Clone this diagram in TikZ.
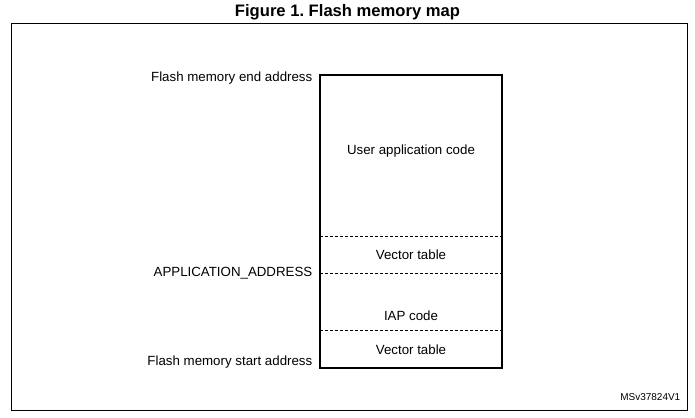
\documentclass[tikz,border=0pt]{standalone}
\usepackage{fontspec}
\setmainfont{Liberation Sans}
\frenchspacing
\begin{document}
\begin{tikzpicture}[x=1pt,y=-1pt,
  lbl/.style={inner sep=0pt,font=\fontsize{13.3}{15}\selectfont},
  sep/.style={dashed,dash pattern=on 3pt off 2pt,line width=0.8pt},
]
\useasboundingbox (0,0) rectangle (695,417);
\fill[white] (0,0) rectangle (695,417);
\node[inner sep=0pt,font=\bfseries\fontsize{16.6}{18}\selectfont] (title) at (347.5,12) {Figure 1. Flash memory map};
\draw[line width=1pt] (11.5,24) rectangle (687,410);
% memory box
\coordinate (tl) at (320,75);
\coordinate (br) at (502,368);
\draw[line width=1.4pt] (tl) rectangle (br);
\coordinate (d1l) at (320,236.5); \coordinate (d1r) at (502,236.5);
\coordinate (d2l) at (320,273.5); \coordinate (d2r) at (502,273.5);
\coordinate (d3l) at (320,330); \coordinate (d3r) at (502,330);
\draw[sep] (d1l) -- (d1r);
\draw[sep] (d2l) -- (d2r);
\draw[sep] (d3l) -- (d3r);
\node[lbl] (uac) at (411,151) {User application code};
\node[lbl] (vt1) at (411,254.5) {Vector table};
\node[lbl] (iap) at (411,315.5) {IAP code};
\node[lbl] (vt2) at (411,349.5) {Vector table};
\node[lbl,anchor=east] (endA) at (312.5,78.5) {Flash memory end address};
\node[lbl,anchor=east] (appA) at (312.5,273) {APPLICATION\_ADDRESS};
\node[lbl,anchor=east] (startA) at (312.5,362.5) {Flash memory start address};
\node[inner sep=0pt,anchor=east,font=\fontsize{10}{11}\selectfont] (ref) at (680.5,397) {MSv37824V1};
\end{tikzpicture}
\end{document}
